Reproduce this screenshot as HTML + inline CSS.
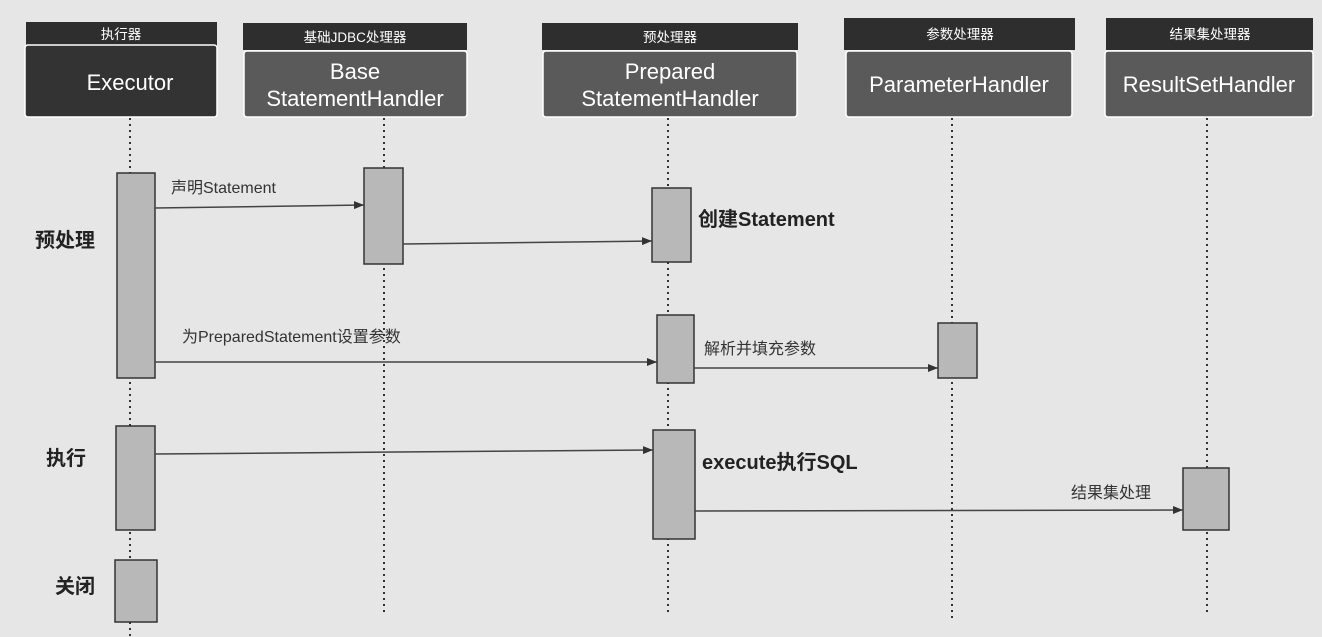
<!DOCTYPE html>
<html><head><meta charset="utf-8"><style>
html,body{margin:0;padding:0;background:#e6e6e6;}
svg{display:block;}
text{font-family:"Liberation Sans","Noto Sans CJK SC",sans-serif;}
</style></head><body>
<svg width="1322" height="637" viewBox="0 0 1322 637" xmlns="http://www.w3.org/2000/svg">
<defs><marker id="a" markerWidth="10" markerHeight="8" refX="10" refY="4" orient="auto" markerUnits="userSpaceOnUse"><path d="M0,0 L10,4 L0,8 z" fill="#333"/></marker></defs>
<rect width="1322" height="637" fill="#e6e6e6"/>
<g stroke="#333" stroke-width="2" stroke-dasharray="2,4" fill="none">
<line x1="130" y1="118" x2="130" y2="637"/>
<line x1="384" y1="118" x2="384" y2="615"/>
<line x1="668" y1="118" x2="668" y2="612"/>
<line x1="952" y1="118" x2="952" y2="618"/>
<line x1="1207" y1="118" x2="1207" y2="615"/>
</g>
<g font-size="13.5" fill="#fff" text-anchor="middle">
<rect x="26" y="22" width="191" height="24" fill="#2e2e2e"/><text x="121" y="39">执行器</text>
<rect x="243" y="23" width="224" height="27" fill="#2e2e2e"/><text x="355" y="42">基础JDBC处理器</text>
<rect x="542" y="23" width="256" height="27" fill="#2e2e2e"/><text x="670" y="42">预处理器</text>
<rect x="844" y="18" width="231" height="32" fill="#2e2e2e"/><text x="960" y="39">参数处理器</text>
<rect x="1106" y="18" width="207" height="32" fill="#2e2e2e"/><text x="1210" y="39">结果集处理器</text>
</g>
<g stroke="#fff" stroke-width="1.5">
<rect x="25" y="45" width="192" height="72" rx="3" fill="#333"/>
<rect x="244" y="51" width="223" height="66" rx="3" fill="#5a5a5a"/>
<rect x="543" y="51" width="254" height="66" rx="3" fill="#5a5a5a"/>
<rect x="846" y="51" width="226" height="66" rx="3" fill="#5a5a5a"/>
<rect x="1105" y="51" width="208" height="66" rx="3" fill="#5a5a5a"/>
</g>
<g font-size="22" fill="#fff" text-anchor="middle">
<text x="130" y="90">Executor</text>
<text x="355" y="79">Base</text><text x="355" y="106">StatementHandler</text>
<text x="670" y="79">Prepared</text><text x="670" y="106">StatementHandler</text>
<text x="959" y="92">ParameterHandler</text>
<text x="1209" y="92">ResultSetHandler</text>
</g>
<g fill="#b8b8b8" stroke="#333" stroke-width="1.5">
<rect x="117" y="173" width="38" height="205"/>
<rect x="116" y="426" width="39" height="104"/>
<rect x="115" y="560" width="42" height="62"/>
<rect x="364" y="168" width="39" height="96"/>
<rect x="652" y="188" width="39" height="74"/>
<rect x="657" y="315" width="37" height="68"/>
<rect x="653" y="430" width="42" height="109"/>
<rect x="938" y="323" width="39" height="55"/>
<rect x="1183" y="468" width="46" height="62"/>
</g>
<g stroke="#444" stroke-width="1.5" marker-end="url(#a)">
<line x1="155" y1="208" x2="364" y2="205"/>
<line x1="403" y1="244" x2="652" y2="241"/>
<line x1="155" y1="362" x2="657" y2="362"/>
<line x1="694" y1="368" x2="938" y2="368"/>
<line x1="155" y1="454" x2="653" y2="450"/>
<line x1="695" y1="511" x2="1183" y2="510"/>
</g>
<g fill="#333" font-size="16">
<text x="171" y="193">声明Statement</text>
<text x="182" y="342">为PreparedStatement设置参数</text>
<text x="704" y="354">解析并填充参数</text>
<text x="1071" y="498">结果集处理</text>
</g>
<g fill="#222" font-size="20" font-weight="bold">
<text x="698" y="226">创建Statement</text>
<text x="702" y="469">execute执行SQL</text>
<text x="35" y="247">预处理</text>
<text x="46" y="465">执行</text>
<text x="55" y="593">关闭</text>
</g>
</svg>
</body></html>
